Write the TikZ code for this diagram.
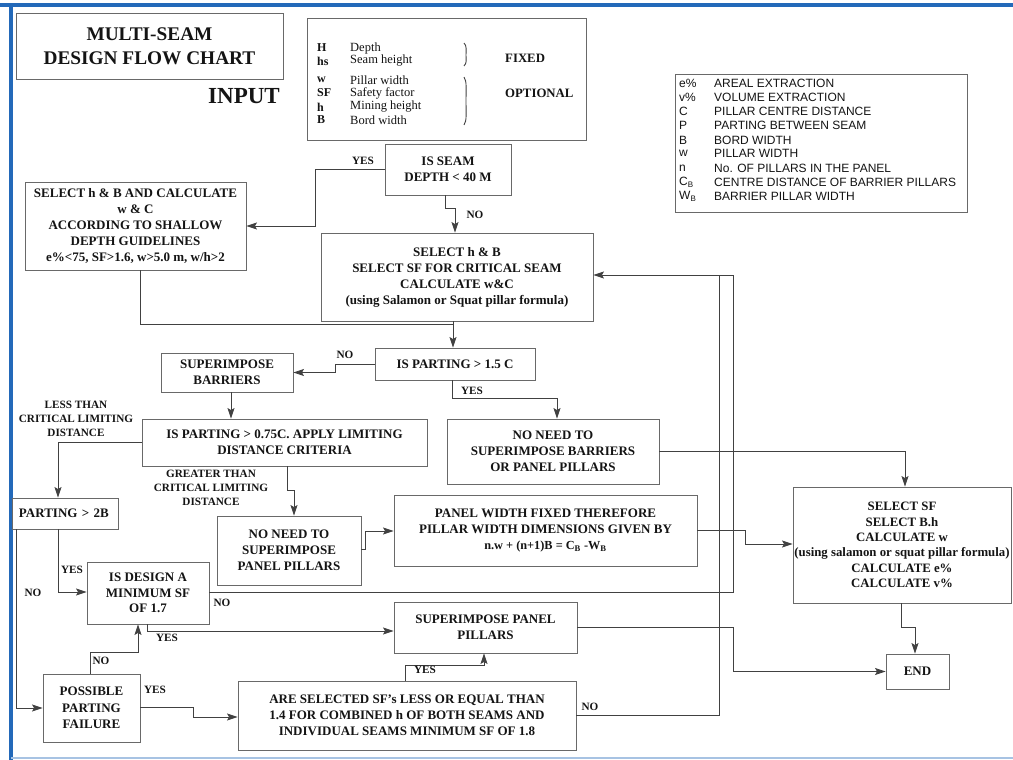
\documentclass[tikz,border=0pt]{standalone}
\usepackage{fontspec}
\setmainfont{Liberation Serif}
\newfontfamily\legfont{Liberation Sans}
\usetikzlibrary{arrows.meta}
\definecolor{bord}{RGB}{105,105,105}
\definecolor{ln}{RGB}{65,65,65}
\definecolor{frameblue}{RGB}{35,105,185}
\definecolor{txt}{RGB}{20,20,20}
\tikzset{
 box/.style={draw=bord, line width=0.9pt, fill=white, inner sep=0pt, align=center, text=txt,
   font=\bfseries\fontsize{13}{16}\selectfont},
 conn/.style={draw=ln, line width=0.85pt},
 arr/.style={conn, -{Stealth[length=10.5pt,width=7pt,inset=2pt]}},
 lab/.style={font=\bfseries\fontsize{11.2}{13.8}\selectfont, inner sep=0pt, align=center, text=txt},
 inl/.style={anchor=west, inner sep=0pt, text=txt, font=\fontsize{12.5}{13}\selectfont},
 leg/.style={anchor=west, inner sep=0pt, text=txt, font=\legfont\fontsize{12}{13}\selectfont},
}
\begin{document}
\begin{tikzpicture}[x=1pt,y=-1pt]
\useasboundingbox (0,0) rectangle (1013,760);
\fill[white] (0,0) rectangle (1013,760);
% frame
\draw[frameblue, line width=3.5pt] (0,5) -- (1013,5);
\draw[frameblue, line width=3.5pt] (11,5) -- (11,760);
\draw[frameblue!40, line width=1.5pt] (11,758) -- (1013,758);

% title
\node[box, minimum width=267pt, minimum height=66pt, font=\bfseries\fontsize{19.3}{24}\selectfont] (title) at (149.5,46) {MULTI-SEAM\\DESIGN FLOW CHART};
\node[inner sep=0pt, text=txt, font=\bfseries\fontsize{23}{26}\selectfont] (input) at (244,96) {INPUT};

% input legend
\node[box, minimum width=279pt, minimum height=122pt] (inbox) at (446.5,79) {};
\node[inl, font=\bfseries\fontsize{12}{13}\selectfont] (s1a) at (317,48) {H};
\node[inl, font=\bfseries\fontsize{12}{13}\selectfont] (s1b) at (317,61) {hs};
\node[inl, font=\bfseries\fontsize{12}{13}\selectfont] (s1c) at (317,80) {w};
\node[inl, font=\bfseries\fontsize{12}{13}\selectfont] (s1d) at (317,93) {SF};
\node[inl, font=\bfseries\fontsize{12}{13}\selectfont] (s1e) at (317,107) {h};
\node[inl, font=\bfseries\fontsize{12}{13}\selectfont] (s1f) at (317,120) {B};
\node[inl] (d1a) at (350,48) {Depth};
\node[inl] (d1b) at (350,61) {Seam height};
\node[inl] (d1c) at (350,80) {Pillar width};
\node[inl] (d1d) at (350,93) {Safety factor};
\node[inl] (d1e) at (350,107) {Mining height};
\node[inl] (d1f) at (350,120) {Bord width};
\draw[ln, line width=0.9pt] (464,43) .. controls (467,46) and (466,50) .. (466,55) .. controls (466,60) and (467,63) .. (464,66);
\draw[ln, line width=0.9pt] (464,77) .. controls (467,81) and (466,90) .. (466,101) .. controls (466,112) and (467,121) .. (464,125);
\node[inl, font=\bfseries\fontsize{12.8}{13}\selectfont] (fixed) at (505,58) {FIXED};
\node[inl, font=\bfseries\fontsize{12.8}{13}\selectfont] (optional) at (505,93) {OPTIONAL};

% right legend
\node[box, minimum width=292pt, minimum height=138pt] (legbox) at (821,143) {};
\node[leg] (l1s) at (679,83) {e\%};
\node[leg] (l2s) at (679,97) {v\%};
\node[leg] (l3s) at (679,111) {C};
\node[leg] (l4s) at (679,125) {P};
\node[leg] (l5s) at (679,140) {B};
\node[leg] (l6s) at (679,153) {w};
\node[leg] (l7s) at (679,168) {n};
\node[leg] (l8s) at (679,182) {C\textsubscript{B}};
\node[leg] (l9s) at (679,196) {W\textsubscript{B}};
\node[leg] (l1) at (714,83) {AREAL EXTRACTION};
\node[leg] (l2) at (714,97) {VOLUME EXTRACTION};
\node[leg] (l3) at (714,111) {PILLAR CENTRE DISTANCE};
\node[leg] (l4) at (714,125) {PARTING BETWEEN SEAM};
\node[leg] (l5) at (714,140) {BORD WIDTH};
\node[leg] (l6) at (714,153) {PILLAR WIDTH};
\node[leg] (l7) at (714,168) {No. OF PILLARS IN THE PANEL};
\node[leg] (l8) at (714,182) {CENTRE DISTANCE OF BARRIER PILLARS};
\node[leg] (l9) at (714,196) {BARRIER PILLAR WIDTH};

% flow boxes
\node[box, minimum width=126pt, minimum height=51pt] (seam) at (448,169.5) {IS SEAM\\DEPTH < 40 M};
\node[box, minimum width=221pt, minimum height=88pt] (s1) at (135.5,226) {SELECT h \& B AND CALCULATE\\w \& C\\ACCORDING TO SHALLOW\\DEPTH GUIDELINES\\e\%<75, SF>1.6, w>5.0 m, w/h>2};
\node[box, minimum width=272pt, minimum height=88pt] (s2) at (457,277) {SELECT h \& B\\SELECT SF FOR CRITICAL SEAM\\CALCULATE w\&C\\(using Salamon or Squat pillar formula)};
\node[box, minimum width=160pt, minimum height=32pt] (p15) at (455,364) {IS PARTING > 1.5 C};
\node[box, minimum width=132pt, minimum height=39pt] (sb) at (227,372.5) {SUPERIMPOSE\\BARRIERS};
\node[box, minimum width=285pt, minimum height=47pt] (p075) at (284.5,442.5) {IS PARTING > 0.75C. APPLY LIMITING\\DISTANCE CRITERIA};
\node[box, minimum width=212pt, minimum height=65pt] (nnb) at (553,451.5) {NO NEED TO\\SUPERIMPOSE BARRIERS\\OR PANEL PILLARS};
\node[box, minimum width=106pt, minimum height=31pt, text width=92pt, align=left] (p2b) at (65,513.5) {PARTING > 2B};
\node[box, minimum width=144pt, minimum height=69pt] (nnp) at (289,550.5) {NO NEED TO\\SUPERIMPOSE\\PANEL PILLARS};
\node[box, minimum width=303pt, minimum height=71pt] (pw) at (545.5,530.5) {PANEL WIDTH FIXED THEREFORE\\PILLAR WIDTH DIMENSIONS GIVEN BY\\{\fontsize{12.3}{14}\selectfont n.w + (n+1)B = C\textsubscript{B} -W\textsubscript{B}}};
\node[box, minimum width=218pt, minimum height=116pt, font=\bfseries\fontsize{12.8}{15.4}\selectfont] (ssf) at (902,545) {SELECT SF\\SELECT B.h\\CALCULATE w\\(using salamon or squat pillar formula)\\CALCULATE e\%\\CALCULATE v\%};
\node[box, minimum width=63pt, minimum height=35pt] (fin) at (917.5,671.5) {END};
\node[box, minimum width=122pt, minimum height=62pt, font=\bfseries\fontsize{13}{15.5}\selectfont] (isd) at (148,593) {IS DESIGN A\\MINIMUM SF\\OF 1.7};
\node[box, minimum width=183pt, minimum height=51pt] (spp) at (485.5,627.5) {SUPERIMPOSE PANEL\\PILLARS};
\node[box, minimum width=97pt, minimum height=68pt, font=\bfseries\fontsize{13}{16.5}\selectfont] (pf) at (91.5,708) {POSSIBLE\\PARTING\\FAILURE};
\node[box, minimum width=338pt, minimum height=69pt] (are) at (407,715.5) {ARE SELECTED SF's LESS OR EQUAL THAN\\1.4 FOR COMBINED h OF BOTH SEAMS AND\\INDIVIDUAL SEAMS MINIMUM SF OF 1.8};

% connectors
\draw[arr] (seam.west) -- (315,169.5) -- (315,226) -- (s1.east);
\draw[arr] (445,0 |- seam.south) -- (445,208) -- (455,208) -- (455,0 |- s2.north);
\draw[conn] (140,0 |- s1.south) -- (140,324) -- (453,324);
\draw[arr] (453,0 |- s2.south) -- (453,0 |- p15.north);
\draw[arr] (p15.west) -- (335,364) -- (335,372.5) -- (sb.east);
\draw[arr] (231,0 |- sb.south) -- (231,0 |- p075.north);
\draw[arr] (452,0 |- p15.south) -- (452,398) -- (557,398) -- (557,0 |- nnb.north);
\draw[arr] (p075.west) -- (58,442.5) -- (58,0 |- p2b.north);
\draw[arr] (287,0 |- p075.south) -- (287,490) -- (294,490) -- (294,0 |- nnp.north);
\draw[arr] (nnp.east |- 0,549) -- (365,549) -- (365,531) -- (pw.west |- 0,531);
\draw[arr] (pw.east) -- (745,530.5) -- (745,544) -- (ssf.west |- 0,544);
\draw[arr] (nnb.east) -- (905,451.5) -- (905,0 |- ssf.north);
\draw[arr] (901,0 |- ssf.south) -- (901,627) -- (915,627) -- (915,0 |- fin.north);
\draw[arr] (spp.east) -- (733,627.5) -- (733,671.5) -- (fin.west);
\draw[arr] (isd.east |- 0,592) -- (733,592) -- (733,275) -- (s2.east |- 0,275);
\draw[conn] (are.east) -- (719,715.5) -- (719,275);
\draw[arr] (58,0 |- p2b.south) -- (58,592) -- (isd.west |- 0,592);
\draw[arr] (16,0 |- p2b.south) -- (16,708) -- (pf.west);
\draw[arr] (90,0 |- pf.north) -- (90,652) -- (138,652) -- (138,0 |- isd.south);
\draw[arr] (147,0 |- isd.south) -- (147,631) -- (spp.west |- 0,631);
\draw[arr] (pf.east |- 0,707) -- (193,707) -- (193,717) -- (are.west |- 0,717);
\draw[arr] (405,0 |- are.north) -- (405,665) -- (484,665) -- (484,0 |- spp.south);

% labels
\node[lab] (yes1) at (363,161) {YES};
\node[lab] (no1) at (475,215) {NO};
\node[lab] (no2) at (345,355) {NO};
\node[lab] (yes2) at (472,391) {YES};
\node[lab] (less) at (76,419) {LESS THAN\\CRITICAL LIMITING\\DISTANCE};
\node[lab] (greater) at (211,488) {GREATER THAN\\CRITICAL LIMITING\\DISTANCE};
\node[lab] (yes3) at (72,570) {YES};
\node[lab] (no3) at (33,593) {NO};
\node[lab] (no4) at (222,603) {NO};
\node[lab] (yes4) at (167,638) {YES};
\node[lab] (no5) at (101,661) {NO};
\node[lab] (yes5) at (155,690) {YES};
\node[lab] (yes6) at (425,670) {YES};
\node[lab] (no6) at (590,707) {NO};
\end{tikzpicture}
\end{document}
